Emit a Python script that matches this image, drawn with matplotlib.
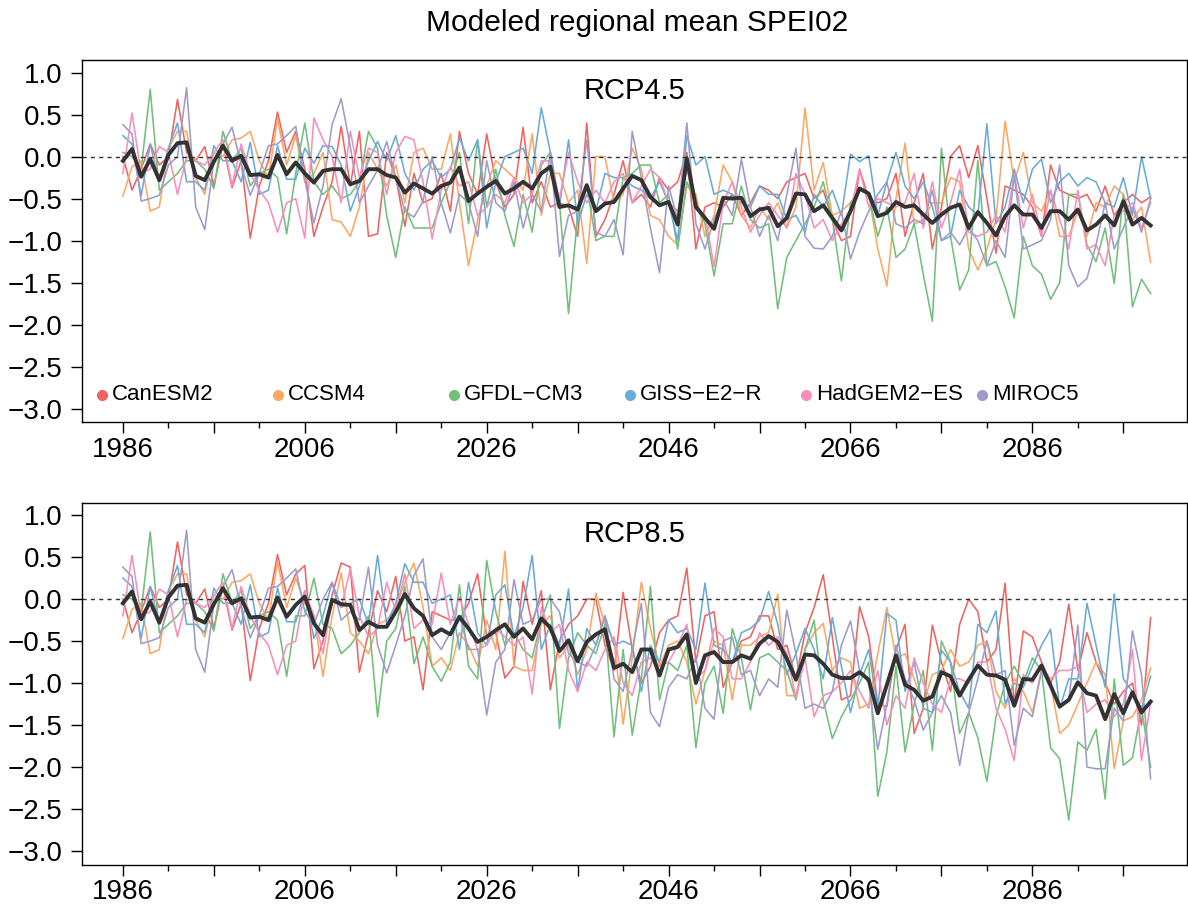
import numpy as np
import matplotlib.pyplot as plt
from matplotlib.ticker import FixedLocator, FuncFormatter

plt.rcParams['font.family'] = ['Liberation Sans', 'DejaVu Sans']

years = np.arange(1986, 2100)
models = ['CanESM2', 'CCSM4', 'GFDL\u2212CM3', 'GISS\u2212E2\u2212R', 'HadGEM2\u2212ES', 'MIROC5']
colors = ['#ef6461', '#fca763', '#72bf7c', '#6aaad6', '#f78fbb', '#9e9bc9']

# historical part (1986-2005), shared by both scenarios
hist_canesm2 = [0.00, -0.40, -0.15, 0.15, -0.10, 0.00, 0.68, 0.05, -0.05, 0.12,
                -0.35, 0.15, -0.37, -0.05, -0.97, -0.35, -0.05, 0.53, 0.05, 0.30]
hist_ccsm4 = [-0.47, -0.12, -0.05, -0.65, -0.60, 0.10, 0.30, 0.30, -0.25, -0.45,
              0.05, 0.00, 0.20, 0.22, 0.30, -0.05, -0.25, 0.45, -0.10, 0.25]
hist_gfdl = [0.05, 0.00, -0.15, 0.80, -0.40, -0.30, -0.20, -0.05, -0.05, -0.15,
             -0.38, 0.30, -0.05, 0.10, -0.35, -0.20, -0.15, -0.25, -0.92, -0.20]
hist_giss = [0.25, 0.15, -0.47, 0.15, -0.30, 0.10, 0.40, -0.30, -0.30, -0.40,
             0.13, -0.05, -0.05, -0.30, 0.17, -0.45, -0.40, 0.13, -0.27, -0.27]
hist_hadgem = [-0.20, 0.52, -0.20, -0.15, 0.12, 0.05, -0.45, 0.00, -0.05, -0.10,
               0.05, 0.20, -0.35, 0.15, -0.20, -0.40, -0.55, -0.90, -0.55, -0.50]
hist_miroc = [0.38, 0.27, -0.53, -0.50, -0.46, -0.10, 0.00, 0.82, -0.60, -0.87,
              -0.05, 0.15, 0.35, -0.10, -0.46, -0.20, 0.13, 0.15, 0.25, 0.36]
mean_hist = [-0.05, 0.09, -0.24, -0.03, -0.28, 0.02, 0.16, 0.17, -0.23, -0.28,
             -0.06, 0.13, -0.05, 0.01, -0.22, -0.21, -0.25, 0.02, -0.21, -0.07]

# RCP4.5, 2006-2099
rcp45_canesm2 = [-0.15, -0.95, -0.60, -0.30, 0.36, -0.35, 0.30, -0.95, -0.92, 0.05,
                 -0.25, -0.83, -0.20, -0.55, -0.50, -0.20, -0.65, 0.30, -0.20, -0.45,
                 0.27, -0.30, -0.60, -0.45, 0.35, -0.55, -0.30, -0.60, -0.55, -0.60,
                 -0.95, 0.40, -0.95, -0.75, -0.45, -0.05, -0.55, -0.45, -0.60, -0.25,
                 -0.40, -0.30, 0.05, -1.10, -0.60, -0.55, -0.60, -0.45, -0.70, -0.55,
                 -0.35, -0.40, -0.50, -0.30, -0.25, -0.20, -0.50, -0.40, -0.75, -1.00,
                 -0.95, -0.15, -0.50, -0.55, -0.50, -0.20, -0.95, -0.55, -0.20, -1.10,
                 -0.60, 0.00, 0.13, -0.25, 0.13, -0.50, -1.15, -0.35, -0.40, -0.45,
                 -0.60, -0.95, -0.10, -0.40, -0.45, -0.50, -0.45, -0.65, -0.35, -0.70,
                 -0.55, -0.45, -0.55, -0.48]
rcp45_ccsm4 = [-0.30, -0.20, 0.05, -0.75, -0.78, -0.95, -0.60, 0.05, -0.15, -0.35,
               -0.10, -0.55, 0.05, 0.10, -0.15, -0.15, 0.27, -0.55, -1.30, -0.75,
               -0.35, -0.05, -0.15, -0.25, -0.40, 0.27, -0.70, -0.20, -0.20, -0.55,
               -0.40, -1.27, 0.00, 0.00, -0.55, -0.45, 0.10, -0.15, -0.70, -0.75,
               -0.95, -1.05, -0.35, -0.45, -0.95, -0.70, -0.10, -0.30, -0.70, -0.85,
               -0.60, -0.75, -0.55, -0.85, -0.60, 0.58, -0.40, -0.07, -0.70, -0.65,
               -0.55, -0.40, -0.45, -1.10, -1.54, -0.50, 0.16, -0.80, -0.75, -0.55,
               -0.55, -0.25, -0.30, -1.10, -1.35, -1.10, -0.75, 0.42, -0.30, 0.05,
               -0.55, -0.65, -0.40, -0.95, -0.95, -0.65, -0.95, -0.55, -0.60, -0.35,
               -0.45, -0.75, -0.60, -1.26]
rcp45_gfdl = [0.40, -0.30, -0.45, -0.35, -0.50, -0.45, -0.30, 0.30, 0.10, -0.70,
              -1.20, -0.60, -0.85, -0.85, -0.85, -0.55, -0.30, 0.05, -0.80, 0.20,
              -0.60, -0.15, -0.70, -1.07, -0.45, -0.90, -0.10, 0.05, -0.55, -1.87,
              -0.70, -0.35, -1.00, -0.95, -0.95, -0.25, -0.20, -0.10, -0.10, -0.55,
              -0.45, -1.10, -0.30, -0.55, -0.80, -1.42, -0.80, -0.80, -0.35, -0.75,
              -0.85, -0.80, -1.81, -1.20, -1.00, -0.80, -0.60, -0.30, -0.75, -1.48,
              -0.55, -0.40, -0.45, -0.95, -0.60, -1.20, -1.10, -0.80, -1.40, -1.96,
              0.10, -0.95, -1.59, -1.35, -0.05, -1.30, -1.25, -1.55, -1.92, -0.95,
              -1.30, -1.40, -1.70, -1.50, -0.45, -0.45, -1.05, -1.25, -0.85, -1.51,
              -0.45, -1.79, -1.46, -1.63]
rcp45_giss = [0.10, -0.08, 0.13, 0.12, -0.10, -0.65, -0.35, -0.05, 0.18, -0.05,
              0.25, -0.20, -0.40, -0.15, -0.05, -0.25, -0.15, 0.22, -0.05, 0.20,
              -0.85, -0.30, 0.00, 0.05, 0.10, -0.20, 0.58, 0.05, -0.60, 0.20,
              -0.80, -0.45, -0.65, -0.20, -0.25, -0.25, -0.35, -0.40, -0.50, -0.30,
              -0.55, -1.00, 0.25, -0.10, 0.00, -0.45, -0.40, -0.45, -0.55, -0.60,
              -0.35, -0.45, -0.45, -0.75, -0.70, -0.90, -0.45, -0.60, -0.40, -0.70,
              0.03, -0.06, 0.01, -0.70, -0.30, 0.05, -0.35, -0.50, -0.30, -0.60,
              -1.00, -0.95, -0.40, -0.60, -0.70, 0.39, -0.80, -0.60, -0.15, -0.55,
              -0.15, -0.03, -0.55, -0.30, -0.20, -0.35, -0.25, -0.30, -0.55, -0.60,
              -0.25, -0.70, 0.00, -0.50]
rcp45_hadgem = [-0.97, 0.46, 0.20, 0.00, -0.55, 0.30, -0.25, 0.10, 0.05, -0.45,
                0.05, 0.24, 0.20, -0.30, -0.98, -0.40, -0.12, -0.35, -0.30, -0.70,
                -0.60, -0.45, -0.55, -0.25, -0.55, -0.45, -0.05, -0.05, -0.50, 0.05,
                -0.30, -0.55, -0.40, -0.55, -0.30, -0.20, -0.55, -0.35, -0.15, -0.25,
                -0.55, -0.65, -0.15, -0.60, -0.70, -1.31, -0.55, -0.30, -0.60, -0.90,
                -0.70, -0.55, -0.70, -0.85, -0.20, -0.45, -0.85, -0.75, -1.00, -0.80,
                -0.65, -0.15, -0.60, -0.50, -0.55, -0.60, -0.55, -0.20, -0.85, -0.30,
                -0.85, -0.55, -0.15, -0.90, -0.95, -0.90, -0.70, -0.90, -0.20, -0.85,
                -0.45, -0.95, -0.40, -0.75, -1.10, -0.40, -1.10, -1.05, -1.30, -0.70,
                -0.65, -0.55, -0.85, -0.55]
rcp45_miroc = [-0.28, -0.79, -0.35, 0.38, 0.69, 0.12, -0.55, -0.35, -0.16, 0.18,
               -0.25, -0.65, -0.72, -0.53, 0.00, -0.55, -0.91, -0.45, -0.55, -0.95,
               -0.05, -0.55, -0.65, -0.30, -0.85, -0.45, -0.65, 0.05, -1.19, -0.70,
               -0.65, 0.20, -0.90, -0.95, -0.75, -1.17, 0.30, -0.25, -0.85, -1.38,
               -0.35, -0.75, 0.40, -0.80, -1.10, -0.75, -0.50, -0.70, -0.03, -0.60,
               -0.95, -0.70, -1.00, -0.45, 0.10, -0.95, -1.09, -1.10, -0.95, -0.65,
               -1.22, -0.90, -0.65, -0.45, -0.30, -0.80, -0.85, -0.75, -0.80, -0.40,
               -1.00, -0.90, -1.05, -0.85, -1.00, -1.30, -1.00, -1.20, -0.22, -1.10,
               -1.05, -1.00, -0.75, -0.10, -1.30, -1.55, -1.45, -1.05, -0.55, -1.10,
               -0.85, -0.60, -0.90, -0.50]
mean_rcp45 = [-0.20, -0.31, -0.17, -0.15, -0.15, -0.33, -0.29, -0.15, -0.15, -0.22,
              -0.25, -0.43, -0.32, -0.38, -0.44, -0.35, -0.31, -0.13, -0.53, -0.44,
              -0.36, -0.29, -0.44, -0.38, -0.30, -0.38, -0.20, -0.12, -0.60, -0.58,
              -0.63, -0.34, -0.65, -0.56, -0.54, -0.38, -0.23, -0.28, -0.48, -0.58,
              -0.54, -0.81, -0.02, -0.60, -0.73, -0.86, -0.49, -0.50, -0.49, -0.71,
              -0.63, -0.61, -0.83, -0.73, -0.44, -0.45, -0.65, -0.58, -0.73, -0.88,
              -0.65, -0.38, -0.44, -0.71, -0.67, -0.54, -0.60, -0.58, -0.69, -0.79,
              -0.69, -0.61, -0.57, -0.85, -0.66, -0.79, -0.94, -0.71, -0.58, -0.69,
              -0.69, -0.85, -0.65, -0.65, -0.75, -0.63, -0.88, -0.81, -0.70, -0.82,
              -0.53, -0.81, -0.73, -0.82]

# RCP8.5, 2006-2099
rcp85_canesm2 = [0.40, -0.83, -0.50, 0.05, 0.43, 0.38, -0.87, -0.40, 0.10, -0.15,
                 0.27, -0.50, -0.45, -1.08, -0.15, -0.20, -0.25, -0.25, -0.05, 0.30,
                 -0.45, -0.40, -0.94, -0.80, 0.21, -0.30, 0.10, -1.08, -0.50, -0.30,
                 -0.20, 0.00, 0.00, -0.55, -0.85, 0.08, -0.60, -1.00, -0.80, -0.40,
                 -0.25, -0.20, 0.37, -0.75, -0.20, -0.15, -1.05, -0.75, -0.50, -0.45,
                 -0.20, -0.20, -0.60, -0.55, -0.95, -0.40, -0.10, 0.29, -0.45, -1.20,
                 -1.15, -0.09, -0.45, -1.25, -1.28, -0.60, -0.30, -1.60, -1.30, -0.31,
                 -0.75, -1.10, -0.30, 0.00, -0.15, -0.75, -0.60, 0.19, -1.25, -0.38,
                 -0.45, -0.75, -1.00, -0.75, -0.06, -0.85, -0.40, -0.75, -1.00, -1.25,
                 -1.10, -1.00, -1.50, -0.22]
rcp85_ccsm4 = [-0.05, -0.20, -0.92, -0.20, 0.31, -0.40, -0.50, -0.65, -0.30, -0.25,
               -0.10, 0.20, 0.43, -0.10, -0.80, -0.70, -0.85, -0.40, -0.55, -0.80,
               -0.25, -0.60, 0.57, -0.80, -0.85, -0.85, -0.30, -0.20, -0.70, -0.55,
               -0.90, -0.60, 0.07, -0.30, -0.50, -1.49, -0.70, 0.20, -0.35, -0.80,
               -0.55, -0.50, -0.75, -1.25, -0.85, -0.50, -0.55, -1.20, -0.55, -0.55,
               -0.45, -0.40, 0.06, -1.15, -1.15, -0.60, -0.40, -0.29, -0.85, -0.70,
               -0.75, -1.30, -1.25, -0.65, -0.10, -0.70, -0.65, -0.95, -1.25, -0.90,
               -0.85, -0.60, -0.80, -0.75, -0.55, -0.50, -1.10, -1.30, -0.95, -1.10,
               -1.35, -0.85, -1.00, -1.60, -1.50, -1.25, -1.00, -0.75, -0.90, -2.02,
               -1.45, -1.40, -1.20, -0.82]
rcp85_gfdl = [-0.20, 0.25, -0.30, -0.35, -0.65, -0.55, -0.40, -0.20, -1.40, -0.50,
              -0.35, 0.15, -0.77, -0.45, -0.80, -0.98, -0.75, 0.17, -0.80, -0.95,
              0.46, -0.15, -0.55, -0.40, -0.60, -0.70, -0.25, 0.05, -1.54, -0.70,
              -0.40, -0.55, -0.65, -0.30, -1.64, -0.60, -1.62, -0.95, 0.15, -1.20,
              -0.75, -0.85, -0.55, -1.77, -1.00, -0.80, -1.36, -0.35, -0.70, -1.32,
              -0.70, -0.65, -0.75, -0.85, -1.20, -0.60, -0.25, -1.20, -1.66, -1.40,
              -1.20, -1.00, -0.75, -2.35, -1.82, -0.80, -1.82, -1.25, -0.85, -1.80,
              -0.50, -0.75, -1.60, -1.35, -1.65, -2.17, -1.40, -1.00, -0.80, -1.00,
              -0.70, -0.85, -1.77, -1.90, -2.63, -1.70, -1.80, -1.55, -2.38, -0.95,
              -1.98, -1.89, -1.30, -2.00]
rcp85_giss = [0.10, -0.47, -0.20, 0.20, -0.10, -0.05, 0.00, -0.30, 0.52, -0.30,
              -0.05, 0.42, 0.20, 0.20, -0.05, 0.00, 0.05, -0.60, 0.20, -0.40,
              -0.55, 0.05, 0.17, -0.45, -0.10, 0.52, -0.60, -0.30, -0.55, 0.12,
              -1.10, -0.35, -0.55, -0.20, -0.55, -0.50, -0.55, -1.10, -0.55, -0.75,
              -0.25, -0.40, -0.35, -0.60, 0.19, -0.55, -0.60, -0.75, -0.40, -0.35,
              -0.25, 0.09, -0.30, -0.90, -0.65, -0.35, -0.60, -0.95, -0.22, -0.80,
              -1.35, -0.90, -0.60, -1.30, -0.17, -0.25, -1.10, -0.75, -1.30, -1.35,
              -0.61, -0.75, -1.10, -1.30, -0.30, -0.40, -0.14, -1.25, -1.00, -1.05,
              -0.80, -0.55, -0.36, -1.30, -0.95, -0.95, -0.05, -0.55, -1.05, 0.06,
              -0.95, -1.10, -1.30, -0.92]
rcp85_hadgem = [0.10, -0.20, -0.65, 0.00, -0.10, 0.36, -0.20, -0.45, -0.35, 0.20,
                -0.15, 0.30, -0.35, -0.25, -0.30, 0.31, -0.30, 0.02, -0.30, -0.60,
                -0.55, -0.35, -0.45, -0.55, -0.45, -1.13, -0.10, -0.40, -0.30, -0.85,
                -1.10, -0.75, -0.85, -0.60, -0.45, -1.00, -1.15, -0.75, -0.70, -0.80,
                -0.75, -0.55, -0.30, -0.95, -0.85, -0.35, -0.45, -0.95, -0.95, -0.75,
                -0.40, -0.55, -0.45, -0.65, -1.18, -0.70, -1.40, -1.15, -1.10, -1.00,
                -0.85, -1.10, -1.30, -0.85, -1.50, -1.15, -1.30, -0.70, -1.00, -1.25,
                -1.35, -0.95, -0.95, -1.00, -0.75, -0.75, -1.30, -1.55, -1.92, -0.90,
                -1.00, -0.80, -0.95, -0.85, -0.85, -0.80, -1.35, -1.25, -1.20, -1.40,
                -1.25, -0.60, -1.92, -1.24]
rcp85_miroc = [-0.15, -0.30, 0.00, 0.20, -0.25, -0.15, -0.25, 0.38, -0.55, -0.88,
               -0.55, -0.20, 0.28, 0.48, -0.45, -0.60, -0.40, -0.20, -0.60, -0.60,
               -1.38, -0.75, -0.60, 0.23, -0.30, -0.25, 0.00, 0.00, -0.15, -0.65,
               -0.75, -0.80, -0.55, -0.20, -0.95, -1.10, -0.60, -0.05, -1.35, -1.52,
               -1.05, -0.90, -0.95, -0.70, -1.30, -1.43, -0.50, -0.45, -0.90, -0.85,
               -1.15, -0.95, -1.05, -0.13, -0.65, -1.30, -1.25, -1.30, -1.10, -0.55,
               -0.26, -0.85, -1.00, -1.79, -1.25, -0.55, -0.95, -1.20, -1.56, -1.35,
               -1.15, -1.35, -1.98, -1.35, -0.95, -0.50, -0.90, -0.85, -1.74, -1.30,
               -1.40, -0.85, -1.05, -1.25, -1.20, -0.31, -2.00, -2.02, -2.02, -1.30,
               -1.45, -0.38, -0.90, -2.14]
mean_rcp85 = [0.03, -0.29, -0.43, -0.01, -0.06, -0.07, -0.37, -0.27, -0.33, -0.33,
              -0.15, 0.06, -0.11, -0.20, -0.43, -0.36, -0.42, -0.21, -0.35, -0.51,
              -0.45, -0.37, -0.30, -0.45, -0.35, -0.48, -0.23, -0.34, -0.62, -0.49,
              -0.74, -0.51, -0.42, -0.36, -0.82, -0.77, -0.87, -0.60, -0.60, -0.91,
              -0.60, -0.57, -0.42, -1.00, -0.67, -0.63, -0.75, -0.75, -0.67, -0.71,
              -0.53, -0.44, -0.51, -0.71, -0.96, -0.66, -0.67, -0.77, -0.90, -0.94,
              -0.94, -0.87, -0.96, -1.36, -1.02, -0.67, -1.02, -1.08, -1.21, -1.16,
              -0.87, -0.92, -1.15, -0.96, -0.79, -0.90, -0.91, -0.96, -1.27, -0.95,
              -0.96, -0.79, -1.03, -1.28, -1.20, -0.99, -1.12, -1.15, -1.43, -1.13,
              -1.36, -1.11, -1.35, -1.22]

hist_runs = [hist_canesm2, hist_ccsm4, hist_gfdl, hist_giss, hist_hadgem, hist_miroc]
rcp45_runs = [rcp45_canesm2, rcp45_ccsm4, rcp45_gfdl, rcp45_giss, rcp45_hadgem, rcp45_miroc]
rcp85_runs = [rcp85_canesm2, rcp85_ccsm4, rcp85_gfdl, rcp85_giss, rcp85_hadgem, rcp85_miroc]

panels = [('RCP4.5', rcp45_runs, mean_rcp45), ('RCP8.5', rcp85_runs, mean_rcp85)]


def fmt_y(v, pos):
    s = '%.1f' % v
    if s == '-0.0':
        s = '0.0'
    return s.replace('-', '\u2212')


fig = plt.figure(figsize=(11.88, 9.07), dpi=100)
ax_top = fig.add_axes([82 / 1188, 1 - 422 / 907, 1105 / 1188, 362 / 907])
ax_bot = fig.add_axes([82 / 1188, 1 - 864.5 / 907, 1105 / 1188, 362 / 907])

for ax, (label, runs, mean) in zip([ax_top, ax_bot], panels):
    for h, r, c in zip(hist_runs, runs, colors):
        ax.plot(years, np.concatenate([h, r]), color=c, lw=1.15, zorder=2)
    ax.axhline(0, color='#333333', lw=1.0, ls=(0, (3, 3)), zorder=3)
    ax.plot(years, np.concatenate([mean_hist, mean]), color='#333333', lw=2.8, zorder=4)

    ax.set_xlim(1981.5, 2103)
    ax.set_ylim(-3.16, 1.15)
    ax.yaxis.set_major_locator(FixedLocator(np.arange(-3.0, 1.01, 0.5)))
    ax.yaxis.set_major_formatter(FuncFormatter(fmt_y))
    ax.xaxis.set_major_locator(FixedLocator(np.arange(1986, 2100, 10)))
    ax.xaxis.set_minor_locator(FixedLocator(np.arange(1991, 2100, 10)))
    ax.xaxis.set_major_formatter(
        FuncFormatter(lambda v, p: '%d' % v if (int(round(v)) - 1986) % 20 == 0 else ''))
    ax.tick_params(axis='both', which='major', direction='out', length=8, width=1.0,
                   labelsize=20, colors='black')
    ax.tick_params(axis='x', which='major', pad=2.5)
    ax.tick_params(axis='y', which='major', pad=6)
    ax.tick_params(axis='x', which='minor', direction='out', length=4, width=1.0)
    for sp in ax.spines.values():
        sp.set_linewidth(1.0)

    ax.text(0.5, 0.914, label, transform=ax.transAxes, ha='center', va='center',
            fontsize=21)

# legend row in the upper panel
for i, (m, c) in enumerate(zip(models, colors)):
    x0 = 0.018 + 0.1593 * i
    ax_top.plot([x0], [0.075], 'o', ms=7, color=c, transform=ax_top.transAxes,
                clip_on=False, zorder=5)
    ax_top.text(x0 + 0.009, 0.075, m, transform=ax_top.transAxes, ha='left',
                va='center', fontsize=16)

fig.text(637 / 1188, 1 - 23 / 907, 'Modeled regional mean SPEI02', ha='center',
         va='center', fontsize=21.5)

fig.savefig('out.png', dpi=100)
